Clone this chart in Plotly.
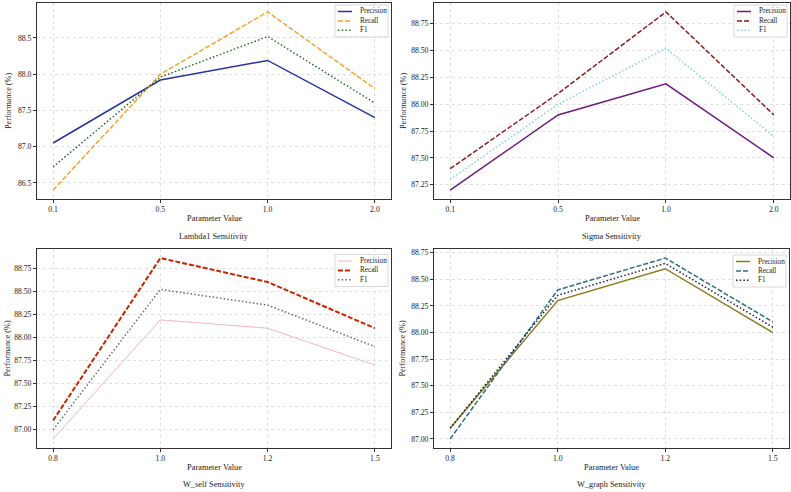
import plotly.graph_objects as go

# ---------------- data ----------------
lambda1_x = ["0.1", "0.5", "1.0", "2.0"]
lambda1_precision = [87.05, 87.92, 88.19, 87.40]
lambda1_recall = [86.40, 88.00, 88.86, 87.80]
lambda1_f1 = [86.72, 87.96, 88.52, 87.60]

sigma_x = ["0.1", "0.5", "1.0", "2.0"]
sigma_precision = [87.20, 87.90, 88.19, 87.50]
sigma_recall = [87.40, 88.10, 88.86, 87.90]
sigma_f1 = [87.30, 88.00, 88.52, 87.70]

wself_x = ["0.8", "1.0", "1.2", "1.5"]
wself_precision = [86.90, 88.19, 88.10, 87.70]
wself_recall = [87.10, 88.86, 88.60, 88.10]
wself_f1 = [87.00, 88.52, 88.35, 87.90]

wgraph_x = ["0.8", "1.0", "1.2", "1.5"]
wgraph_precision = [87.10, 88.30, 88.60, 88.00]
wgraph_recall = [87.00, 88.40, 88.70, 88.10]
wgraph_f1 = [87.10, 88.35, 88.65, 88.05]

series_names = ["Precision", "Recall", "F1"]
panel_titles = ["Lambda1 Sensitivity", "Sigma Sensitivity", "W_self Sensitivity", "W_graph Sensitivity"]

# ---------------- styles ----------------
FONT = "Liberation Serif, Times New Roman, serif"
TXT = "#1a1a1a"
DASH = "5px,2px"
DOT = "1.5px,2.2px"

panels = [
    dict(x=lambda1_x, ys=[lambda1_precision, lambda1_recall, lambda1_f1],
         colors=["#27339a", "#f5a52a", "#236b2b"], widths=[1.5, 1.5, 1.5],
         dtick=0.5, fmt=".1f"),
    dict(x=sigma_x, ys=[sigma_precision, sigma_recall, sigma_f1],
         colors=["#6e1a7e", "#8b1a1a", "#7ed6d6"], widths=[1.5, 1.5, 1.5],
         dtick=0.25, fmt=".2f"),
    dict(x=wself_x, ys=[wself_precision, wself_recall, wself_f1],
         colors=["#f2b6c3", "#cc2200", "#6b6b6b"], widths=[1.0, 2.0, 1.5],
         dtick=0.25, fmt=".2f"),
    dict(x=wgraph_x, ys=[wgraph_precision, wgraph_recall, wgraph_f1],
         colors=["#8b7b1e", "#2b6f80", "#1c1c45"], widths=[1.5, 1.5, 1.5],
         dtick=0.25, fmt=".2f"),
]
dashes = ["solid", DASH, DOT]

W, H = 791, 492
# plot areas in pixels: (left, right, top, bottom)
boxes = [(37, 391, 3, 199), (434, 790, 3, 199), (37, 391, 249, 448), (434, 789, 249, 448)]
ytitle_x = [8, 403, 7, 402]
xlabel_y = [218, 218, 467, 467]
title_y = [236, 236, 484, 484]
legend_top_off = [2, 2, 5.5, 6]

fig = go.Figure()
layout = dict(
    width=W, height=H,
    margin=dict(l=0, r=0, t=0, b=0),
    paper_bgcolor="white", plot_bgcolor="white",
    font=dict(family=FONT, size=8, color=TXT),
    annotations=[], shapes=[], showlegend=False,
)


def px(xp):
    return xp / W


def py(yp):
    return 1 - yp / H


for i, p in enumerate(panels):
    n = i + 1
    xa = "x" if n == 1 else f"x{n}"
    ya = "y" if n == 1 else f"y{n}"
    for name, y, c, w, d in zip(series_names, p["ys"], p["colors"], p["widths"], dashes):
        fig.add_trace(go.Scatter(
            x=p["x"], y=y, name=name, mode="lines",
            line=dict(color=c, width=w, dash=d),
            xaxis=xa, yaxis=ya,
        ))
    l, r, t, b = boxes[i]
    allv = [v for s in p["ys"] for v in s]
    lo, hi = min(allv), max(allv)
    pad = (hi - lo) * 0.05
    axis_common = dict(
        showline=True, mirror=True, linecolor="#333", linewidth=1,
        ticks="outside", ticklen=3, tickwidth=0.8, tickcolor="#333",
        showgrid=True, gridcolor="#e0e0e0", gridwidth=0.6, griddash="dot",
        zeroline=False, tickfont=dict(family=FONT, size=7.7, color=TXT),
        automargin=False,
    )
    layout[f"xaxis{'' if n == 1 else n}"] = dict(
        axis_common, domain=[l / W, r / W], anchor=ya,
        type="category", range=[-0.15, len(p["x"]) - 1 + 0.15],
    )
    layout[f"yaxis{'' if n == 1 else n}"] = dict(
        axis_common, domain=[1 - b / H, 1 - t / H], anchor=xa,
        range=[lo - pad, hi + pad], dtick=p["dtick"], tick0=86.0, tickformat=p["fmt"],
    )

    # legend (drawn as a compact box matching the reference)
    bx1 = r - 3
    bx0 = bx1 - 53
    by0 = t + legend_top_off[i]
    by1 = by0 + 32
    layout["shapes"].append(dict(
        type="rect", xref="paper", yref="paper", layer="above",
        x0=px(bx0), x1=px(bx1), y0=py(by0), y1=py(by1),
        fillcolor="rgba(255,255,255,0.85)", line=dict(color="#cfcfcf", width=0.8),
    ))
    for k, (name, c, w, d) in enumerate(zip(series_names, p["colors"], p["widths"], dashes)):
        ry = by0 + 6.5 + k * 9.4
        layout["shapes"].append(dict(
            type="line", xref="paper", yref="paper", layer="above",
            x0=px(bx0 + 3), x1=px(bx0 + 17), y0=py(ry), y1=py(ry),
            line=dict(color=c, width=w, dash=d),
        ))
        layout["annotations"].append(dict(
            text=name, x=px(bx0 + 22.5), y=py(ry), xref="paper", yref="paper",
            showarrow=False, xanchor="left", yanchor="middle",
            font=dict(family=FONT, size=7.2, color=TXT),
        ))

    layout["annotations"] += [
        dict(text="Parameter Value", x=(l + r) / 2 / W, y=py(xlabel_y[i]),
             xref="paper", yref="paper", showarrow=False, xanchor="center", yanchor="middle",
             font=dict(family=FONT, size=8.4, color=TXT)),
        dict(text=panel_titles[i], x=(l + r) / 2 / W, y=py(title_y[i]),
             xref="paper", yref="paper", showarrow=False, xanchor="center", yanchor="middle",
             font=dict(family=FONT, size=8.3, color=TXT)),
        dict(text="Performance (%)", x=px(ytitle_x[i]), y=py((t + b) / 2),
             xref="paper", yref="paper", showarrow=False, xanchor="center", yanchor="middle",
             textangle=-90, font=dict(family=FONT, size=8.2, color=TXT)),
    ]

fig.update_layout(**layout)
fig.write_html(
    "out.html",
    config={"displayModeBar": False},
    post_script="document.body.style.margin='0px';document.body.style.overflow='hidden';",
)
